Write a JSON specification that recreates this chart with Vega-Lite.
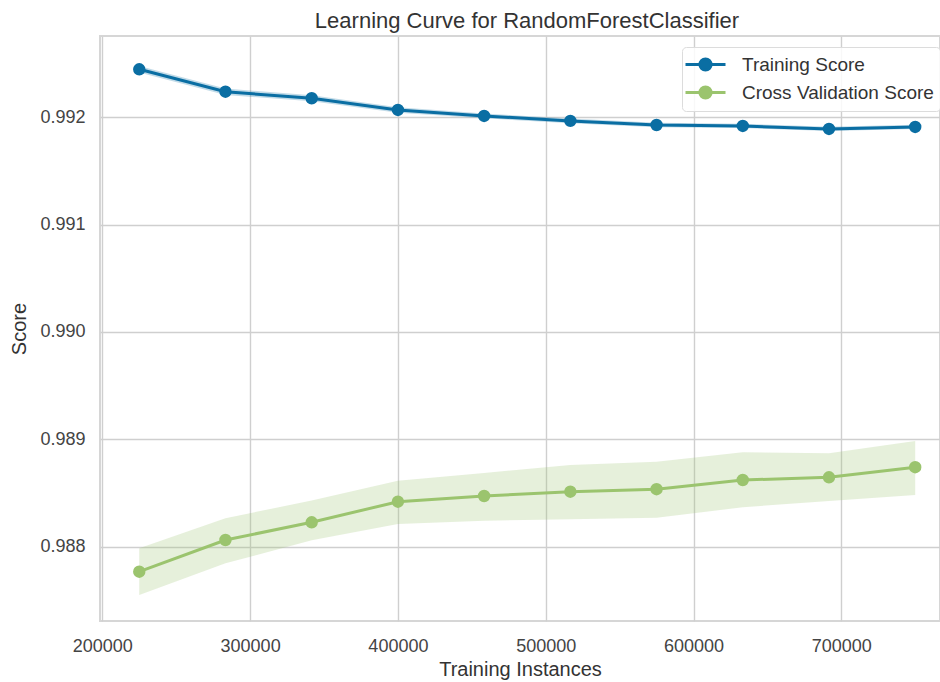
{
  "$schema": "https://vega.github.io/schema/vega-lite/v6.json",
  "width": 840,
  "height": 585,
  "autosize": {"type": "none"},
  "padding": {"left": 100, "top": 36, "right": 0, "bottom": 61},
  "background": "white",
  "title": {
    "text": "Learning Curve for RandomForestClassifier",
    "font": "Liberation Sans",
    "fontSize": 22,
    "fontWeight": "normal",
    "color": "#333333",
    "anchor": "middle",
    "baseline": "bottom",
    "offset": 4,
    "dx": 7,
    "dy": 23
  },
  "config": {
    "font": "Liberation Sans",
    "view": {"stroke": "#d6d6d6", "strokeWidth": 2},
    "axis": {
      "domain": false,
      "ticks": false,
      "tickSize": 0,
      "grid": true,
      "gridColor": "#cfcfcf",
      "gridWidth": 1.4,
      "labelFont": "Liberation Sans",
      "labelFontSize": 18,
      "labelColor": "#444444",
      "titleFont": "Liberation Sans",
      "titleFontSize": 20,
      "titleFontWeight": "normal",
      "titleColor": "#333333"
    }
  },
  "data": {
    "values": [
      {"n": 225000, "series": "Training Score", "score": 0.992447, "lo": 0.992417, "hi": 0.992477},
      {"n": 283333, "series": "Training Score", "score": 0.992238, "lo": 0.992208, "hi": 0.992268},
      {"n": 341666, "series": "Training Score", "score": 0.992177, "lo": 0.992150, "hi": 0.992204},
      {"n": 400000, "series": "Training Score", "score": 0.992068, "lo": 0.992043, "hi": 0.992093},
      {"n": 458333, "series": "Training Score", "score": 0.992012, "lo": 0.991990, "hi": 0.992034},
      {"n": 516666, "series": "Training Score", "score": 0.991966, "lo": 0.991944, "hi": 0.991988},
      {"n": 575000, "series": "Training Score", "score": 0.991928, "lo": 0.991908, "hi": 0.991948},
      {"n": 633333, "series": "Training Score", "score": 0.991919, "lo": 0.991899, "hi": 0.991939},
      {"n": 691666, "series": "Training Score", "score": 0.991891, "lo": 0.991871, "hi": 0.991911},
      {"n": 750000, "series": "Training Score", "score": 0.991910, "lo": 0.991890, "hi": 0.991930},
      {"n": 225000, "series": "Cross Validation Score", "score": 0.987767, "lo": 0.987550, "hi": 0.987985},
      {"n": 283333, "series": "Cross Validation Score", "score": 0.988062, "lo": 0.987845, "hi": 0.988265},
      {"n": 341666, "series": "Cross Validation Score", "score": 0.988227, "lo": 0.988060, "hi": 0.988430},
      {"n": 400000, "series": "Cross Validation Score", "score": 0.988419, "lo": 0.988211, "hi": 0.988615},
      {"n": 458333, "series": "Cross Validation Score", "score": 0.988472, "lo": 0.988242, "hi": 0.988686},
      {"n": 516666, "series": "Cross Validation Score", "score": 0.988512, "lo": 0.988255, "hi": 0.988761},
      {"n": 575000, "series": "Cross Validation Score", "score": 0.988535, "lo": 0.988270, "hi": 0.988791},
      {"n": 633333, "series": "Cross Validation Score", "score": 0.988621, "lo": 0.988367, "hi": 0.988879},
      {"n": 691666, "series": "Cross Validation Score", "score": 0.988646, "lo": 0.988426, "hi": 0.988870},
      {"n": 750000, "series": "Cross Validation Score", "score": 0.988740, "lo": 0.988482, "hi": 0.988985}
    ]
  },
  "encoding": {
    "x": {
      "field": "n",
      "type": "quantitative",
      "title": "Training Instances",
      "scale": {"domain": [198440, 766776], "nice": false, "zero": false},
      "axis": {
        "values": [200000, 300000, 400000, 500000, 600000, 700000],
        "format": "d",
        "labelFlush": false,
        "labelOverlap": false,
        "labelPadding": 16,
        "titlePadding": 4
      }
    },
    "color": {
      "field": "series",
      "type": "nominal",
      "scale": {
        "domain": ["Training Score", "Cross Validation Score"],
        "range": ["#0a6ea3", "#9bc46e"]
      },
      "legend": {
        "title": null,
        "orient": "none",
        "legendX": 582,
        "legendY": 11,
        "direction": "vertical",
        "padding": 6,
        "fillColor": "rgba(255,255,255,0.85)",
        "strokeColor": "#dcdcdc",
        "cornerRadius": 4,
        "symbolType": "M-2,0H2M0.56,0A0.56,0.56,0,1,1,-0.56,0A0.56,0.56,0,1,1,0.56,0Z",
        "symbolSize": 400,
        "symbolStrokeWidth": 3,
        "symbolOffset": 6,
        "labelFont": "Liberation Sans",
        "labelFontSize": 19,
        "labelColor": "#333333",
        "labelOffset": 25,
        "labelLimit": 0,
        "rowPadding": 3,
        "encode": {
          "symbols": {
            "update": {
              "fill": {"scale": "color", "field": "value"},
              "stroke": {"scale": "color", "field": "value"},
              "opacity": {"value": 1},
              "fillOpacity": {"value": 1},
              "strokeOpacity": {"value": 1}
            }
          }
        }
      }
    }
  },
  "layer": [
    {
      "mark": {"type": "area", "opacity": 0.25},
      "encoding": {
        "y": {"field": "lo", "type": "quantitative"},
        "y2": {"field": "hi"}
      }
    },
    {
      "mark": {"type": "line", "strokeWidth": 3},
      "encoding": {
        "y": {
          "field": "score",
          "type": "quantitative",
          "title": "Score",
          "scale": {"domain": [0.9873075, 0.992757], "nice": false, "zero": false},
          "axis": {
            "values": [0.988, 0.989, 0.99, 0.991, 0.992],
            "format": ".3f",
            "labelPadding": 15,
            "titlePadding": 10
          }
        }
      }
    },
    {
      "mark": {"type": "circle", "size": 154, "opacity": 1},
      "encoding": {
        "y": {"field": "score", "type": "quantitative"}
      }
    }
  ]
}
